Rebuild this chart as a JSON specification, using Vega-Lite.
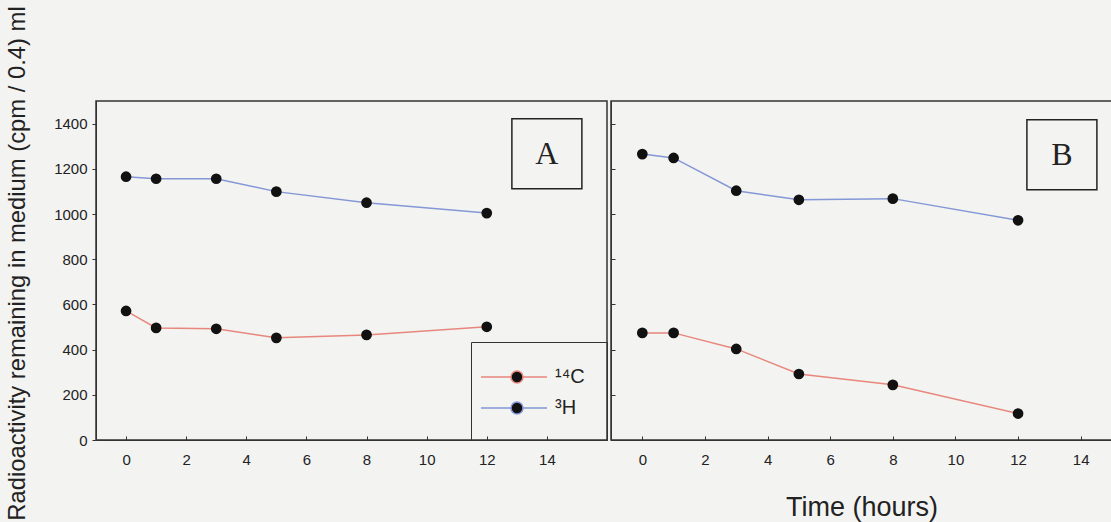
{
  "$schema": "https://vega.github.io/schema/vega-lite/v6.json",
  "background": "#f3f3f1",
  "padding": {"left": 4, "top": 5, "right": 2, "bottom": 2},
  "spacing": 0,
  "datasets": {
    "obs": [
      {"panel": "A", "series": "³H", "time": 0, "value": 1165},
      {"panel": "A", "series": "³H", "time": 1, "value": 1156},
      {"panel": "A", "series": "³H", "time": 3, "value": 1156},
      {"panel": "A", "series": "³H", "time": 5, "value": 1099},
      {"panel": "A", "series": "³H", "time": 8, "value": 1050},
      {"panel": "A", "series": "³H", "time": 12, "value": 1004},
      {"panel": "A", "series": "¹⁴C", "time": 0, "value": 571},
      {"panel": "A", "series": "¹⁴C", "time": 1, "value": 496},
      {"panel": "A", "series": "¹⁴C", "time": 3, "value": 492},
      {"panel": "A", "series": "¹⁴C", "time": 5, "value": 452},
      {"panel": "A", "series": "¹⁴C", "time": 8, "value": 465},
      {"panel": "A", "series": "¹⁴C", "time": 12, "value": 501},
      {"panel": "B", "series": "³H", "time": 0, "value": 1265},
      {"panel": "B", "series": "³H", "time": 1, "value": 1248},
      {"panel": "B", "series": "³H", "time": 3, "value": 1103},
      {"panel": "B", "series": "³H", "time": 5, "value": 1063},
      {"panel": "B", "series": "³H", "time": 8, "value": 1068},
      {"panel": "B", "series": "³H", "time": 12, "value": 972},
      {"panel": "B", "series": "¹⁴C", "time": 0, "value": 474},
      {"panel": "B", "series": "¹⁴C", "time": 1, "value": 474},
      {"panel": "B", "series": "¹⁴C", "time": 3, "value": 403},
      {"panel": "B", "series": "¹⁴C", "time": 5, "value": 292},
      {"panel": "B", "series": "¹⁴C", "time": 8, "value": 244},
      {"panel": "B", "series": "¹⁴C", "time": 12, "value": 117}
    ],
    "tags": [
      {"panel": "A", "time": 14, "value": 1267, "tag": "A"},
      {"panel": "B", "time": 13.4, "value": 1262, "tag": "B"}
    ]
  },
  "config": {
    "font": "Liberation Sans",
    "view": {"stroke": "#333", "strokeWidth": 1.5},
    "axis": {
      "domainColor": "#333",
      "tickColor": "#333",
      "labelColor": "#222",
      "labelFont": "Liberation Sans",
      "labelFontSize": 15,
      "titleFont": "Liberation Sans",
      "titleFontWeight": "normal",
      "titleColor": "#222",
      "grid": false
    }
  },
  "resolve": {"scale": {"stroke": "independent"}, "legend": {"stroke": "independent"}},
  "hconcat": [
    {
      "width": 511,
      "height": 339,
      "layer": [
        {
          "data": {"name": "obs"},
          "transform": [{"filter": "datum.panel === 'A'"}],
          "mark": {"type": "line", "strokeWidth": 1.5},
          "encoding": {
            "x": {"field": "time", "type": "quantitative", "scale": {"domain": [-1, 16], "nice": false},
                  "axis": {"values": [0, 2, 4, 6, 8, 10, 12, 14], "tickSize": -4, "labelPadding": 16, "title": null}},
            "y": {"field": "value", "type": "quantitative", "scale": {"domain": [0, 1500], "nice": false},
                  "axis": {"values": [0, 200, 400, 600, 800, 1000, 1200, 1400], "format": "d", "tickSize": 4, "labelPadding": 5,
                           "title": "Radioactivity remaining in medium (cpm / 0.4) ml", "titleFontSize": 23.8,
                           "titleX": -72, "titleY": 162, "titleBaseline": "alphabetic", "titleAngle": -90}},
            "stroke": {"field": "series", "type": "nominal",
                       "scale": {"domain": ["¹⁴C", "³H"], "range": ["#e8877d", "#8497d6"]},
                       "legend": {
                         "title": null, "orient": "bottom-right", "offset": 0,
                         "strokeColor": "#333", "padding": 22,
                         "symbolType": "M-1,0L1.5,0M2.5,0L4.5,0M2.5,0A0.5,0.5 0 1,1 1.5,0A0.5,0.5 0 1,1 2.5,0Z",
                         "symbolSize": 576, "symbolStrokeWidth": 1.5, "symbolFillColor": "#111",
                         "symbolOffset": -13, "labelOffset": 49, "rowPadding": 8,
                         "labelFontSize": 20, "labelColor": "#222", "labelFont": "Liberation Sans",
                         "encode": {"symbols": {"update": {"fill": {"value": "#111"}}}}
                       }}
          }
        },
        {
          "data": {"name": "obs"},
          "transform": [{"filter": "datum.panel === 'A'"}],
          "mark": {"type": "point", "filled": true, "color": "#111", "size": 115, "opacity": 1},
          "encoding": {
            "x": {"field": "time", "type": "quantitative"},
            "y": {"field": "value", "type": "quantitative"}
          }
        },
        {
          "data": {"name": "tags"},
          "transform": [{"filter": "datum.panel === 'A'"}],
          "mark": {"type": "point", "shape": "square", "filled": false, "stroke": "#222", "strokeWidth": 1.5, "size": 4900, "opacity": 1},
          "encoding": {
            "x": {"field": "time", "type": "quantitative"},
            "y": {"field": "value", "type": "quantitative"}
          }
        },
        {
          "data": {"name": "tags"},
          "transform": [{"filter": "datum.panel === 'A'"}],
          "mark": {"type": "text", "font": "Liberation Serif", "fontSize": 32, "color": "#222", "baseline": "middle", "align": "center"},
          "encoding": {
            "x": {"field": "time", "type": "quantitative"},
            "y": {"field": "value", "type": "quantitative"},
            "text": {"field": "tag"}
          }
        }
      ]
    },
    {
      "width": 501,
      "height": 339,
      "layer": [
        {
          "data": {"name": "obs"},
          "transform": [{"filter": "datum.panel === 'B'"}],
          "mark": {"type": "line", "strokeWidth": 1.5},
          "encoding": {
            "x": {"field": "time", "type": "quantitative", "scale": {"domain": [-1, 15], "nice": false},
                  "axis": {"values": [0, 2, 4, 6, 8, 10, 12, 14], "tickSize": -4, "labelPadding": 16,
                           "title": "Time (hours)", "titleFontSize": 27, "titlePadding": 27}},
            "y": {"field": "value", "type": "quantitative", "scale": {"domain": [0, 1500], "nice": false},
                  "axis": {"values": [0, 200, 400, 600, 800, 1000, 1200, 1400], "tickSize": -4, "labels": false, "title": null}},
            "stroke": {"field": "series", "type": "nominal",
                       "scale": {"domain": ["¹⁴C", "³H"], "range": ["#e8877d", "#8497d6"]},
                       "legend": null}
          }
        },
        {
          "data": {"name": "obs"},
          "transform": [{"filter": "datum.panel === 'B'"}],
          "mark": {"type": "point", "filled": true, "color": "#111", "size": 115, "opacity": 1},
          "encoding": {
            "x": {"field": "time", "type": "quantitative"},
            "y": {"field": "value", "type": "quantitative"}
          }
        },
        {
          "data": {"name": "tags"},
          "transform": [{"filter": "datum.panel === 'B'"}],
          "mark": {"type": "point", "shape": "square", "filled": false, "stroke": "#222", "strokeWidth": 1.5, "size": 4900, "opacity": 1},
          "encoding": {
            "x": {"field": "time", "type": "quantitative"},
            "y": {"field": "value", "type": "quantitative"}
          }
        },
        {
          "data": {"name": "tags"},
          "transform": [{"filter": "datum.panel === 'B'"}],
          "mark": {"type": "text", "font": "Liberation Serif", "fontSize": 32, "color": "#222", "baseline": "middle", "align": "center"},
          "encoding": {
            "x": {"field": "time", "type": "quantitative"},
            "y": {"field": "value", "type": "quantitative"},
            "text": {"field": "tag"}
          }
        }
      ]
    }
  ]
}
